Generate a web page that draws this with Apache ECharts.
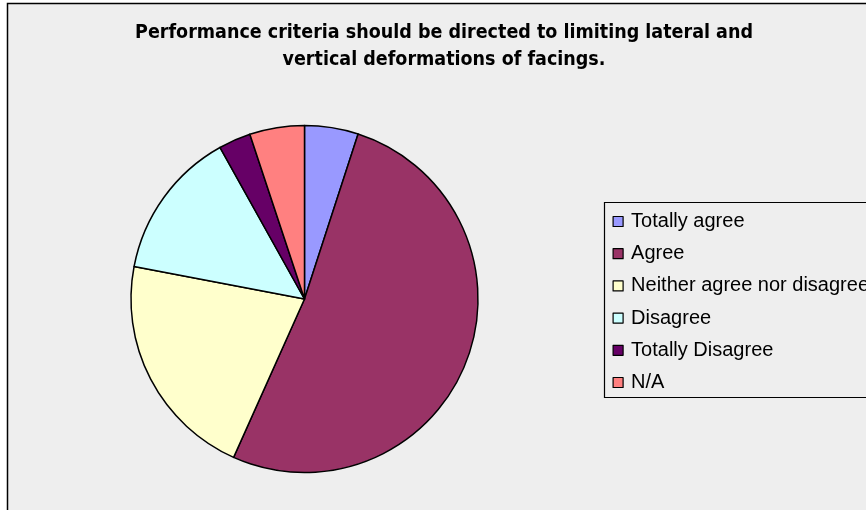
<!DOCTYPE html>
<html>
<head>
<meta charset="utf-8">
<script src="https://cdn.jsdelivr.net/npm/echarts@6/dist/echarts.min.js"></script>
<style>
html,body{margin:0;padding:0;background:#fff;}
#chart{width:866px;height:510px;}
</style>
</head>
<body>
<div id="chart"></div>
<script>
const titleLines = ['Performance criteria should be directed to limiting lateral and', 'vertical deformations of facings.'];
const categories = ['Totally agree', 'Agree', 'Neither agree nor disagree', 'Disagree', 'Totally Disagree', 'N/A'];
const values = [5.0, 51.7, 21.3, 13.9, 3.0, 5.1];
const colors = ['#9999FF', '#993366', '#FFFFCC', '#CCFFFF', '#660066', '#FF8080'];

const chart = echarts.init(document.getElementById('chart'), null, {renderer: 'canvas'});
chart.setOption({
  animation: false,
  backgroundColor: '#ffffff',
  graphic: [
    {
      type: 'rect', z: 0,
      shape: {x: 7.5, y: 3.5, width: 900, height: 600},
      style: {fill: '#EEEEEE', stroke: '#000000', lineWidth: 1.5}
    },
    {
      type: 'text', z: 1, x: 444, y: 19,
      style: {
        text: titleLines.join('\n'),
        fontFamily: 'DejaVu Sans Condensed',
        fontWeight: 'bold', fontSize: 19.5, lineHeight: 27,
        fill: '#000', align: 'center', verticalAlign: 'top'
      }
    }
  ],
  legend: {
    orient: 'vertical',
    left: 604.5, top: 202.5,
    padding: [9, 40, 5, 8],
    borderColor: '#000', borderWidth: 1.2,
    backgroundColor: '#EEEEEE',
    itemWidth: 10, itemHeight: 10, itemGap: 12.2,
    icon: 'rect',
    itemStyle: {borderColor: '#000', borderWidth: 1.2},
    textStyle: {fontFamily: 'Liberation Sans', fontSize: 20, lineHeight: 20, color: '#000', padding: [0, 0, 0, 3]},
    data: categories
  },
  series: [{
    type: 'pie',
    center: [304.5, 299],
    radius: 173.5,
    startAngle: 90,
    clockwise: true,
    label: {show: false},
    labelLine: {show: false},
    emphasis: {disabled: true},
    itemStyle: {borderColor: '#000', borderWidth: 1.5},
    data: categories.map((c, i) => ({name: c, value: values[i], itemStyle: {color: colors[i]}}))
  }]
});
</script>
</body>
</html>
